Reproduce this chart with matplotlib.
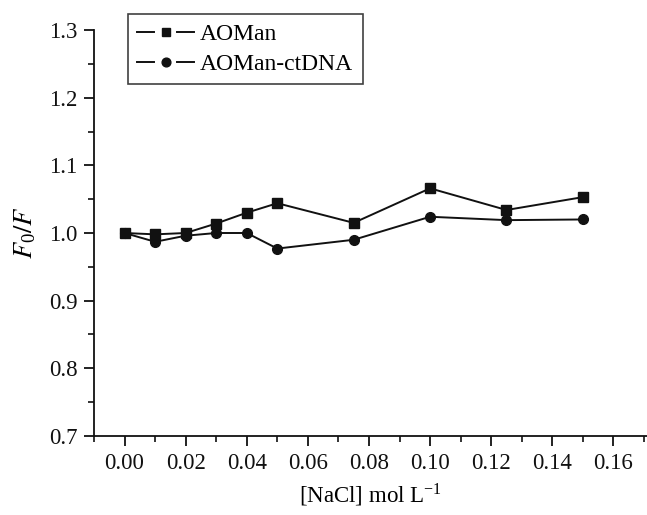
import matplotlib.pyplot as plt
from matplotlib.lines import Line2D
from matplotlib.legend_handler import HandlerBase
from matplotlib.ticker import MultipleLocator

plt.rcParams['font.family'] = ['Liberation Serif', 'DejaVu Serif']
plt.rcParams['mathtext.fontset'] = 'stix'

# NaCl concentration (mol/L) and fluorescence ratio F0/F
nacl = [0.00, 0.01, 0.02, 0.03, 0.04, 0.05, 0.075, 0.10, 0.125, 0.15]
aoman = [1.000, 0.998, 1.000, 1.014, 1.030, 1.044, 1.015, 1.066, 1.034, 1.053]
aoman_ctdna = [1.000, 0.987, 0.996, 1.000, 1.000, 0.977, 0.990, 1.024, 1.019, 1.020]

x_ticks = [0.00, 0.02, 0.04, 0.06, 0.08, 0.10, 0.12, 0.14, 0.16]
y_ticks = [0.7, 0.8, 0.9, 1.0, 1.1, 1.2, 1.3]

INK = '#111111'


class GappedLineHandler(HandlerBase):
    # legend key drawn as: line, gap, marker, gap, line
    def create_artists(self, legend, orig_handle, xdescent, ydescent,
                       width, height, fontsize, trans):
        y = height / 2 - ydescent
        x0 = -xdescent
        mid = x0 + width / 2
        gap = width * 0.2
        lw = orig_handle.get_linewidth()
        left = Line2D([x0, mid - gap], [y, y], color=INK, lw=lw)
        right = Line2D([mid + gap, x0 + width], [y, y], color=INK, lw=lw)
        mark = Line2D([mid], [y], ls='none', marker=orig_handle.get_marker(),
                      ms=orig_handle.get_markersize() * 0.9, color=INK)
        for a in (left, right, mark):
            a.set_transform(trans)
        return [left, right, mark]


fig = plt.figure(figsize=(6.47, 5.15), dpi=100)
ax = fig.add_axes([94 / 647, 1 - 436 / 515, 553 / 647, 406 / 515])

ax.plot(nacl, aoman, color=INK, lw=1.4, marker='s', ms=6.5, label='AOMan')
ax.plot(nacl, aoman_ctdna, color=INK, lw=1.4, marker='o', ms=7, label='AOMan-ctDNA')

ax.set_xlim(-0.01, 0.171)
ax.set_ylim(0.7, 1.3)
ax.set_xticks(x_ticks)
ax.set_xticklabels([f'{v:.2f}' for v in x_ticks])
ax.set_yticks(y_ticks)
ax.set_yticklabels([f'{v:.1f}' for v in y_ticks])
ax.xaxis.set_minor_locator(MultipleLocator(0.01))
ax.yaxis.set_minor_locator(MultipleLocator(0.05))

for side in ('top', 'right'):
    ax.spines[side].set_visible(False)
for side in ('left', 'bottom'):
    ax.spines[side].set_linewidth(1.3)
    ax.spines[side].set_color(INK)

ax.tick_params(which='major', direction='out', length=7, width=1.3, labelsize=16.5, pad=5, colors=INK)
ax.tick_params(which='minor', direction='out', length=4, width=1.2, colors=INK)

ax.set_xlabel('[NaCl] mol L$^{\\mathregular{-1}}$', fontsize=16.5, labelpad=6)
ax.set_ylabel('$F_{\\mathregular{0}}/F$', fontsize=19, labelpad=8)

leg = ax.legend(loc='upper left', bbox_to_anchor=(0.0615, 1.039), fontsize=17, frameon=True,
                fancybox=False, edgecolor=INK, handlelength=2.4, handletextpad=0.25,
                borderpad=0.4, labelspacing=0.35, borderaxespad=0,
                handler_map={Line2D: GappedLineHandler()})
leg.get_frame().set_linewidth(1.2)

fig.savefig('out.png', dpi=100)
